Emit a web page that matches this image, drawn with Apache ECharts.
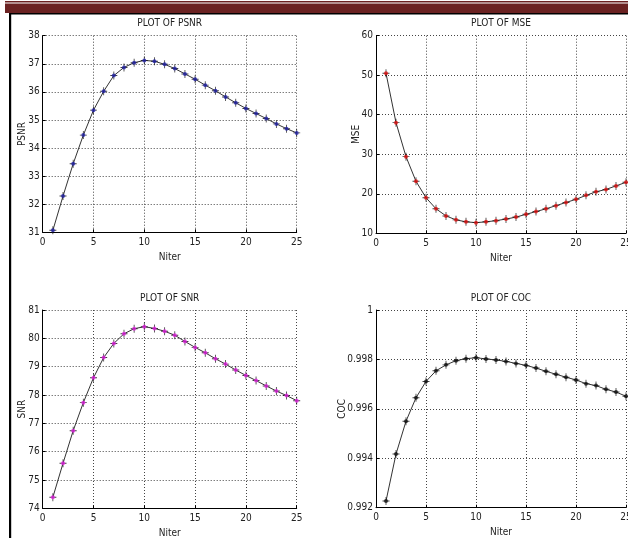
<!DOCTYPE html>
<html><head><meta charset="utf-8">
<script src="https://cdn.jsdelivr.net/npm/echarts@6/dist/echarts.min.js"></script>
<style>html,body{margin:0;padding:0;background:#fff}#c{width:628px;height:538px}</style>
</head><body><div id="c"></div>
<script>
const iterations = [1,2,3,4,5,6,7,8,9,10,11,12,13,14,15,16,17,18,19,20,21,22,23,24,25];
const psnrValues = [31.07,32.29,33.44,34.46,35.35,36.02,36.58,36.87,37.04,37.12,37.09,36.98,36.83,36.64,36.45,36.24,36.04,35.82,35.61,35.41,35.23,35.05,34.86,34.69,34.54];
const mseValues = [50.5,38.0,29.4,23.15,19.0,16.2,14.4,13.4,12.9,12.7,12.9,13.2,13.6,14.1,14.8,15.5,16.2,17.0,17.8,18.6,19.6,20.5,21.1,22.0,22.9];
const snrValues = [74.39,75.59,76.74,77.73,78.61,79.32,79.82,80.16,80.34,80.41,80.35,80.25,80.11,79.89,79.68,79.49,79.28,79.09,78.88,78.69,78.51,78.32,78.14,77.98,77.80];
const cocValues = [0.99227,0.99417,0.99550,0.99645,0.99711,0.99754,0.99778,0.99795,0.99803,0.99807,0.99802,0.99798,0.99792,0.99784,0.99776,0.99765,0.99752,0.99740,0.99728,0.99717,0.99702,0.99694,0.99679,0.99668,0.99651];
const titles = ['PLOT OF PSNR','PLOT OF MSE','PLOT OF SNR','PLOT OF COC'];
const yNames = ['PSNR','MSE','SNR','COC'];
const xName = 'Niter';

const FONT = '"DejaVu Sans Condensed","Liberation Sans",sans-serif';
const panels = [
  {data: psnrValues, left: 42.7, top: 35.7, width: 254, height: 196.6, min: 31, max: 38, interval: 1, color: '#2323a8', nameGap: 15},
  {data: mseValues, left: 376, top: 35.7, width: 250, height: 197.6, min: 10, max: 60, interval: 10, color: '#e01010', nameGap: 15},
  {data: snrValues, left: 42.7, top: 310, width: 254, height: 198.3, min: 74, max: 81, interval: 1, color: '#e020e0', nameGap: 15},
  {data: cocValues, left: 376, top: 310, width: 250, height: 197.7, min: 0.992, max: 1, interval: 0.002, color: '#111', nameGap: 29}
];
const plusPath = 'path://M4.4,0 L5.6,0 L5.6,4.4 L10,4.4 L10,5.6 L5.6,5.6 L5.6,10 L4.4,10 L4.4,5.6 L0,5.6 L0,4.4 L4.4,4.4 Z';

const option = {
  animation: false,
  backgroundColor: '#fff',
  textStyle: {fontFamily: FONT},
  title: panels.map((p, i) => ({
    text: titles[i], left: p.left + p.width / 2, top: p.top - 17, textAlign: 'center', padding: 0,
    textStyle: {fontSize: 10, fontWeight: 'normal', color: '#222', fontFamily: FONT}
  })),
  grid: panels.map(p => ({left: p.left, top: p.top, width: p.width, height: p.height, containLabel: false, outerBoundsMode: 'none'})),
  xAxis: panels.map((p, i) => ({
    type: 'value', gridIndex: i, min: 0, max: 25, interval: 5,
    name: xName, nameLocation: 'middle', nameGap: 20, nameMoveOverlap: false,
    nameTextStyle: {fontSize: 10, color: '#222', fontFamily: FONT},
    axisLine: {lineStyle: {color: '#000', width: 1}},
    axisTick: {inside: true, length: 3, lineStyle: {color: '#000'}},
    axisLabel: {fontSize: 10, color: '#222', margin: 5, fontFamily: FONT, hideOverlap: false},
    splitLine: {show: true, lineStyle: {type: [1, 2], color: '#444', width: 1}}
  })),
  yAxis: panels.map((p, i) => ({
    type: 'value', gridIndex: i, min: p.min, max: p.max, interval: p.interval,
    name: yNames[i], nameLocation: 'middle', nameGap: p.nameGap, nameRotate: 90, nameMoveOverlap: false,
    nameTextStyle: {fontSize: 10, color: '#222', fontFamily: FONT},
    axisLine: {show: true, lineStyle: {color: '#000', width: 1}},
    axisTick: {inside: true, length: 3, lineStyle: {color: '#000'}},
    axisLabel: {fontSize: 10, color: '#222', margin: 3, fontFamily: FONT},
    splitLine: {show: true, lineStyle: {type: [1, 2], color: '#444', width: 1}}
  })),
  series: [],
  graphic: [
    {type: 'rect', shape: {x: 5, y: 1, width: 623, height: 1.5}, style: {fill: '#6b2020'}},
    {type: 'rect', shape: {x: 5, y: 3.5, width: 623, height: 9.5}, style: {fill: '#6b2222'}},
    {type: 'rect', shape: {x: 9, y: 13, width: 619, height: 1.5}, style: {fill: '#000'}},
    {type: 'rect', shape: {x: 9, y: 13, width: 2.2, height: 525}, style: {fill: '#000'}}
  ]
};
panels.forEach((p, i) => {
  const pts = iterations.map((x, k) => [x, p.data[k]]);
  option.series.push({type: 'line', xAxisIndex: i, yAxisIndex: i, data: pts, smooth: false, showSymbol: false,
    lineStyle: {color: '#333', width: 1}, z: 2});
  option.series.push({type: 'scatter', xAxisIndex: i, yAxisIndex: i, data: pts, symbol: plusPath, symbolSize: [7, 8],
    itemStyle: {color: '#111'}, z: 3});
  option.series.push({type: 'scatter', xAxisIndex: i, yAxisIndex: i, data: pts, symbol: 'circle', symbolSize: 4,
    itemStyle: {color: p.color}, z: 4});
});
const chart = echarts.init(document.getElementById('c'), null, {renderer: 'canvas'});
chart.setOption(option);
</script></body></html>
